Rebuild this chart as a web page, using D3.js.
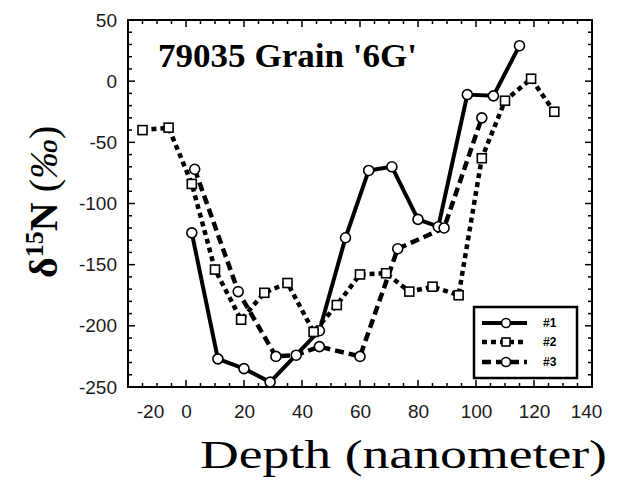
<!DOCTYPE html>
<html>
<head>
<meta charset="utf-8">
<script src="https://cdn.jsdelivr.net/npm/d3@7"></script>
<style>
  html, body { margin: 0; padding: 0; background: #fff; }
  svg { display: block; }
</style>
</head>
<body>
<svg id="chart" width="622" height="484"></svg>
<script>
// ---- data ----
const seriesNames = ["#1", "#2", "#3"];
const depth1 = [2, 11, 20, 29, 46, 55, 63, 71, 80, 87, 97, 106, 115];
const d15N1  = [-124, -227, -235, -246, -204, -128, -73, -70, -113, -119, -11, -12, 29];
const depth2 = [-15, -6, 2, 10, 19, 27, 35, 44, 52, 60, 69, 77, 85, 94, 102, 110, 119, 127];
const d15N2  = [-40, -38, -84, -154, -195, -173, -165, -205, -183, -158, -157, -172, -168, -175, -63, -16, 2, -25];
const depth3 = [3, 18, 31, 38, 46, 60, 73, 89, 102];
const d15N3  = [-72, -172, -225, -224, -217, -225, -137, -120, -30];
const xTickValues = [-20, 0, 20, 40, 60, 80, 100, 120, 140];
const yTickValues = [50, 0, -50, -100, -150, -200, -250];
const titleText = "79035 Grain '6G'";
const xLabelText = "Depth (nanometer)";

(function () {
// ---- layout ----
const svg = d3.select("#chart");
const pL = 128, pR = 592, pT = 20, pB = 387;
const x = d3.scaleLinear().domain([-20, 140]).range([pL, pR]);
const y = d3.scaleLinear().domain([-250, 50]).range([pB, pT]);
const fmt = d => String(d);

// frame
svg.append("rect").attr("x", pL).attr("y", pT)
  .attr("width", pR - pL).attr("height", pB - pT)
  .attr("fill", "none").attr("stroke", "#000").attr("stroke-width", 2);

// ticks (inward, all four sides)
const xMinor = d3.range(-20, 141, 5);
const yMinor = d3.range(-250, 51, 10);
const tickG = svg.append("g").attr("stroke", "#000").attr("stroke-width", 1.5);
xMinor.forEach(v => {
  const L = (v % 20 === 0) ? 7 : 4;
  tickG.append("line").attr("x1", x(v)).attr("x2", x(v)).attr("y1", pB).attr("y2", pB - L);
  tickG.append("line").attr("x1", x(v)).attr("x2", x(v)).attr("y1", pT).attr("y2", pT + L);
});
yMinor.forEach(v => {
  const L = (v % 50 === 0) ? 7 : 4;
  tickG.append("line").attr("y1", y(v)).attr("y2", y(v)).attr("x1", pL).attr("x2", pL + L);
  tickG.append("line").attr("y1", y(v)).attr("y2", y(v)).attr("x1", pR).attr("x2", pR - L);
});

// axes labels via d3 axes (ticks hidden, labels only)
const xAxis = svg.append("g").attr("transform", `translate(0,${pB})`)
  .call(d3.axisBottom(x).tickValues(xTickValues).tickSize(0).tickPadding(18).tickFormat(fmt));
xAxis.select(".domain").remove();
xAxis.selectAll("text").attr("font-family", "Liberation Sans, Arial, sans-serif")
  .attr("font-size", 19).attr("fill", "#1a1a1a")
  .attr("transform", d => `translate(${d === -20 ? 22 : (d === 140 ? -6 : 0)},0)`);

const yAxis = svg.append("g").attr("transform", `translate(${pL},0)`)
  .call(d3.axisLeft(y).tickValues(yTickValues).tickSize(0).tickPadding(11).tickFormat(fmt));
yAxis.select(".domain").remove();
yAxis.selectAll("text").attr("font-family", "Liberation Sans, Arial, sans-serif")
  .attr("font-size", 19).attr("fill", "#1a1a1a");

// ---- series ----
const s1 = depth1.map((d, i) => [d, d15N1[i]]);
const s2 = depth2.map((d, i) => [d, d15N2[i]]);
const s3 = depth3.map((d, i) => [d, d15N3[i]]);
const line = d3.line().x(d => x(d[0])).y(d => y(d[1]));

const styles = [
  { data: s1, dash: null, width: 4, marker: "circle" },
  { data: s2, dash: "5,4", width: 4.5, marker: "square" },
  { data: s3, dash: "9,5", width: 4.5, marker: "circle" }
];

styles.forEach(s => {
  svg.append("path").datum(s.data).attr("d", line)
    .attr("fill", "none").attr("stroke", "#000").attr("stroke-width", s.width)
    .attr("stroke-dasharray", s.dash).attr("stroke-linejoin", "round");
});
function drawMarker(g, cx, cy, type, r) {
  if (type === "square") {
    g.append("rect").attr("x", cx - r).attr("y", cy - r).attr("width", 2 * r).attr("height", 2 * r)
      .attr("fill", "#fff").attr("stroke", "#000").attr("stroke-width", 1.6);
  } else {
    g.append("circle").attr("cx", cx).attr("cy", cy).attr("r", r)
      .attr("fill", "#fff").attr("stroke", "#000").attr("stroke-width", 1.6);
  }
}
styles.forEach(s => {
  const g = svg.append("g");
  s.data.forEach(d => drawMarker(g, x(d[0]), y(d[1]), s.marker, s.marker === "square" ? 4.5 : 5));
});

// ---- title ----
svg.append("text").attr("x", 158).attr("y", 67)
  .attr("font-family", "Liberation Serif, Times New Roman, serif")
  .attr("font-weight", "bold").attr("font-size", 33)
  .attr("textLength", 259).attr("lengthAdjust", "spacingAndGlyphs")
  .text(titleText);

// ---- legend ----
const lg = svg.append("g");
lg.append("rect").attr("x", 474).attr("y", 307).attr("width", 103).attr("height", 71)
  .attr("fill", "#fff").attr("stroke", "#000").attr("stroke-width", 2.5);
const rowsY = [323, 342, 362];
styles.forEach((s, i) => {
  lg.append("line").attr("x1", 482).attr("x2", 527).attr("y1", rowsY[i]).attr("y2", rowsY[i])
    .attr("stroke", "#000").attr("stroke-width", s.width).attr("stroke-dasharray", s.dash);
  drawMarker(lg, 506, rowsY[i], s.marker, s.marker === "square" ? 4 : 4.5);
  lg.append("text").attr("x", 543).attr("y", rowsY[i] + 4)
    .attr("font-family", "Liberation Sans, Arial, sans-serif").attr("font-weight", "bold")
    .attr("font-size", 12).text(seriesNames[i]);
});

// ---- axis titles ----
svg.append("text").attr("x", 200).attr("y", 468)
  .attr("font-family", "Liberation Serif, Times New Roman, serif")
  .attr("font-size", 40)
  .attr("textLength", 407).attr("lengthAdjust", "spacingAndGlyphs")
  .text(xLabelText);

const yl = svg.append("text").attr("transform", "translate(57,278) rotate(-90)")
  .attr("font-family", "Liberation Serif, Times New Roman, serif")
  .attr("font-size", 40).attr("font-weight", "bold");
yl.append("tspan").text("δ");
yl.append("tspan").attr("font-size", 26).attr("dy", -14).text("15");
yl.append("tspan").attr("dy", 14).text("N ");
yl.append("tspan").attr("font-weight", "normal").text("(");
yl.append("tspan").attr("font-weight", "normal").attr("font-style", "italic").text("‰");
yl.append("tspan").attr("font-weight", "normal").text(")");
})();
</script>
</body>
</html>
